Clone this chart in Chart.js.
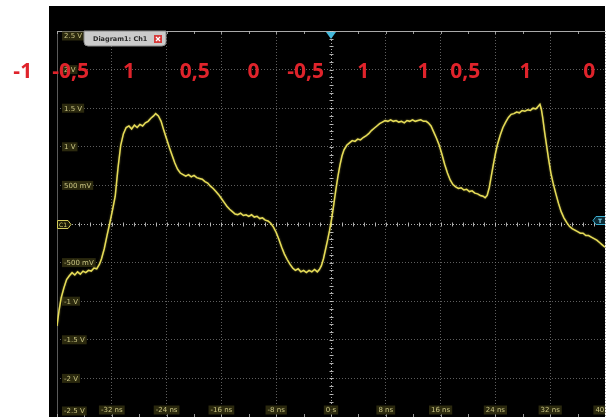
<!DOCTYPE html>
<html>
<head>
<meta charset="utf-8">
<title>Diagram1: Ch1</title>
<script src="https://cdn.jsdelivr.net/npm/chart.js@4.4.1/dist/chart.umd.min.js"></script>
<style>
  html, body { margin: 0; padding: 0; background: #ffffff; }
  #wrap { position: relative; width: 612px; height: 417px; overflow: hidden; }
  canvas { display: block; }
</style>
</head>
<body>
<div id="wrap"><canvas id="scope" width="612" height="417"></canvas></div>
<script>
// Channel 1 acquisition: time (ns) and voltage (V)
const timeNs = [
  -40.0, -39.7, -39.4, -39.0, -38.6, -38.2, -37.8, -37.4, -37.0, -36.6,
  -36.2, -35.8, -35.4, -35.0, -34.6, -34.2, -33.8, -33.5, -33.1, -32.7,
  -32.3, -31.9, -31.5, -31.1, -30.7, -30.3, -29.9, -29.5, -29.1, -28.7,
  -28.3, -27.9, -27.5, -27.1, -26.7, -26.3, -25.9, -25.6, -25.2, -24.8,
  -24.4, -24.0, -23.6, -23.2, -22.8, -22.4, -22.0, -21.6, -21.2, -20.8,
  -20.4, -20.0, -19.6, -19.2, -18.8, -18.4, -18.0, -17.6, -17.2, -16.8,
  -16.4, -16.0, -15.6, -15.2, -14.8, -14.4, -14.0, -13.6, -13.2, -12.8,
  -12.4, -12.0, -11.6, -11.2, -10.8, -10.4, -10.0, -9.6, -9.2, -8.8,
  -8.4, -8.0, -7.6, -7.2, -6.8, -6.4, -6.0, -5.6, -5.2, -4.8,
  -4.4, -4.0, -3.6, -3.2, -2.8, -2.4, -2.0, -1.7, -1.4, -1.1,
  -0.8, -0.5, -0.2, 0.1, 0.4, 0.7, 1.0, 1.3, 1.6, 1.9,
  2.3, 2.7, 3.1, 3.5, 3.9, 4.3, 4.7, 5.1, 5.5, 5.9,
  6.3, 6.7, 7.1, 7.5, 7.9, 8.3, 8.7, 9.1, 9.5, 9.9,
  10.3, 10.7, 11.1, 11.5, 11.9, 12.3, 12.7, 13.1, 13.5, 13.9,
  14.2, 14.6, 15.0, 15.4, 15.8, 16.2, 16.6, 17.0, 17.4, 17.8,
  18.2, 18.6, 19.0, 19.4, 19.8, 20.2, 20.6, 21.0, 21.4, 21.8,
  22.2, 22.5, 22.8, 23.1, 23.4, 23.7, 24.0, 24.3, 24.7, 25.1,
  25.5, 25.9, 26.3, 26.7, 27.1, 27.5, 27.9, 28.3, 28.7, 29.1,
  29.5, 29.9, 30.2, 30.5, 30.7, 30.9, 31.2, 31.5, 31.8, 32.1,
  32.4, 32.8, 33.2, 33.6, 34.0, 34.4, 34.8, 35.2, 35.6, 36.0,
  36.4, 36.8, 37.2, 37.6, 38.0, 38.4, 38.8, 39.2, 39.6, 40.0
];
const volts = [
  -1.32, -1.12, -0.96, -0.83, -0.72, -0.67, -0.63, -0.66, -0.62, -0.65,
  -0.61, -0.63, -0.60, -0.61, -0.57, -0.58, -0.52, -0.45, -0.32, -0.15,
  0.01, 0.18, 0.36, 0.72, 1.02, 1.17, 1.25, 1.27, 1.23, 1.28,
  1.25, 1.29, 1.27, 1.31, 1.33, 1.37, 1.40, 1.43, 1.40, 1.33,
  1.21, 1.10, 0.99, 0.89, 0.79, 0.71, 0.66, 0.64, 0.62, 0.64,
  0.61, 0.63, 0.60, 0.59, 0.58, 0.55, 0.53, 0.49, 0.46, 0.42,
  0.38, 0.33, 0.28, 0.23, 0.19, 0.16, 0.13, 0.12, 0.14, 0.11,
  0.12, 0.10, 0.12, 0.09, 0.10, 0.07, 0.08, 0.05, 0.04, 0.01,
  -0.04, -0.11, -0.20, -0.30, -0.39, -0.46, -0.52, -0.57, -0.60, -0.58,
  -0.62, -0.60, -0.63, -0.60, -0.62, -0.59, -0.62, -0.59, -0.54, -0.45,
  -0.33, -0.21, -0.08, 0.07, 0.25, 0.44, 0.61, 0.76, 0.88, 0.96,
  1.02, 1.05, 1.08, 1.07, 1.10, 1.09, 1.12, 1.14, 1.17, 1.21,
  1.24, 1.27, 1.30, 1.32, 1.34, 1.33, 1.35, 1.33, 1.34, 1.32,
  1.33, 1.31, 1.34, 1.33, 1.35, 1.33, 1.34, 1.35, 1.33, 1.33,
  1.31, 1.27, 1.19, 1.11, 1.02, 0.90, 0.77, 0.66, 0.57, 0.51,
  0.48, 0.46, 0.47, 0.44, 0.45, 0.42, 0.43, 0.40, 0.39, 0.37,
  0.36, 0.34, 0.37, 0.47, 0.62, 0.77, 0.91, 1.03, 1.15, 1.25,
  1.32, 1.38, 1.42, 1.43, 1.45, 1.44, 1.47, 1.46, 1.48, 1.47,
  1.50, 1.49, 1.52, 1.55, 1.49, 1.38, 1.18, 1.00, 0.82, 0.66,
  0.54, 0.40, 0.27, 0.16, 0.08, 0.02, -0.03, -0.06, -0.08, -0.10,
  -0.12, -0.12, -0.15, -0.15, -0.17, -0.19, -0.21, -0.24, -0.27, -0.30
];

// Horizontal (time) and vertical (voltage) graticule labels
const xTickValues = [-32, -24, -16, -8, 0, 8, 16, 24, 32, 40];
const xTickLabels = ["-32 ns", "-24 ns", "-16 ns", "-8 ns", "0 s", "8 ns", "16 ns", "24 ns", "32 ns", "40 ns"];
const yTickValues = [2.5, 2, 1.5, 1, 0.5, -0.5, -1, -1.5, -2, -2.5];
const yTickLabels = ["2.5 V", "2 V", "1.5 V", "1 V", "500 mV", "-500 mV", "-1 V", "-1.5 V", "-2 V", "-2.5 V"];

// Decoded symbol levels written above the trace
const symbolLabels = ["-1", "-0,5", "1", "0,5", "0", "-0,5", "1", "1", "0,5", "1", "0"];
const symbolTimes = [-45, -38, -29.5, -19.9, -11.3, -3.7, 4.7, 13.5, 19.6, 28.4, 37.7];
const symbolLevel = 1.97;

const SCREEN = { x: 49, y: 6, w: 556, h: 411 };

function seg(ctx, x1, y1, x2, y2) {
  ctx.beginPath(); ctx.moveTo(x1, y1); ctx.lineTo(x2, y2); ctx.stroke();
}

function tag(ctx, text, cx, cy, align) {
  ctx.font = '7px "DejaVu Sans"';
  const w = ctx.measureText(text).width + 4;
  const h = 9;
  let left = align === 'left' ? cx : cx - w / 2;
  ctx.fillStyle = 'rgba(48,46,16,0.9)';
  ctx.fillRect(left, cy - h / 2, w, h);
  ctx.fillStyle = '#c9c483';
  ctx.textAlign = 'left';
  ctx.textBaseline = 'middle';
  ctx.fillText(text, left + 2, cy + 0.5);
}

const scopeScreen = {
  id: 'scopeScreen',
  beforeDraw(chart) {
    const ctx = chart.ctx;
    ctx.save();
    ctx.fillStyle = '#ffffff';
    ctx.fillRect(0, 0, chart.width, chart.height);
    ctx.fillStyle = '#000000';
    ctx.fillRect(SCREEN.x, SCREEN.y, SCREEN.w, SCREEN.h);
    ctx.restore();
  },
  beforeDatasetsDraw(chart) {
    const { ctx, chartArea: a, scales: { x, y } } = chart;
    const x0 = Math.round(x.getPixelForValue(0)) + 0.5;
    const y0 = Math.round(y.getPixelForValue(0)) + 0.5;
    ctx.save();
    ctx.beginPath();
    ctx.rect(SCREEN.x, SCREEN.y, SCREEN.w, SCREEN.h);
    ctx.clip();

    // frame
    ctx.lineWidth = 1;
    ctx.strokeStyle = '#a9a9a9';
    seg(ctx, a.left, Math.round(a.top) + 0.5, a.right, Math.round(a.top) + 0.5);
    ctx.strokeStyle = '#5a5a5a';
    seg(ctx, Math.round(a.left) + 0.5, a.top, Math.round(a.left) + 0.5, a.bottom);

    // minor ticks on the centre cross
    ctx.strokeStyle = 'rgba(205,205,205,0.85)';
    for (let i = 0; i <= 50; i++) {
      const px = Math.round(x.getPixelForValue(-40 + i * 1.6)) + 0.5;
      seg(ctx, px, y0 - 2, px, y0 + 2);
    }
    for (let i = 0; i <= 50; i++) {
      const py = Math.round(y.getPixelForValue(-2.5 + i * 0.1)) + 0.5;
      seg(ctx, x0 - 2, py, x0 + 2, py);
    }
    // ticks on the top and bottom edges
    ctx.strokeStyle = 'rgba(190,190,190,0.8)';
    for (let i = 0; i <= 20; i++) {
      const px = Math.round(x.getPixelForValue(-40 + i * 4)) + 0.5;
      seg(ctx, px, a.top, px, a.top + 3);
      seg(ctx, px, a.bottom - 3, px, a.bottom);
    }

    // vertical scale labels
    yTickValues.forEach((v, i) => {
      let py = y.getPixelForValue(v);
      if (v === 2.5) py += 5;
      if (v === -2.5) py -= 6;
      tag(ctx, yTickLabels[i], a.left + 5, py, 'left');
    });
    // horizontal scale labels
    xTickValues.forEach((t, i) => {
      tag(ctx, xTickLabels[i], x.getPixelForValue(t), a.bottom - 7, 'center');
    });

    // channel reference marker
    ctx.fillStyle = '#1b1b06';
    ctx.strokeStyle = '#d4cc5c';
    ctx.beginPath();
    ctx.moveTo(a.left + 0.5, y0 - 4);
    ctx.lineTo(a.left + 11, y0 - 4);
    ctx.lineTo(a.left + 14, y0);
    ctx.lineTo(a.left + 11, y0 + 4);
    ctx.lineTo(a.left + 0.5, y0 + 4);
    ctx.closePath();
    ctx.fill(); ctx.stroke();
    ctx.fillStyle = '#d8d070';
    ctx.font = '6px "DejaVu Sans"';
    ctx.textAlign = 'left'; ctx.textBaseline = 'middle';
    ctx.fillText('C1', a.left + 2, y0 + 0.5);

    // trigger level marker
    const ty = y0 - 4;
    ctx.fillStyle = '#0c2a34';
    ctx.strokeStyle = '#3aaed0';
    ctx.beginPath();
    ctx.moveTo(a.right - 12, ty);
    ctx.lineTo(a.right - 9, ty - 4);
    ctx.lineTo(a.right + 2, ty - 4);
    ctx.lineTo(a.right + 2, ty + 4);
    ctx.lineTo(a.right - 9, ty + 4);
    ctx.closePath();
    ctx.fill(); ctx.stroke();
    ctx.fillStyle = '#7fd6ee';
    ctx.font = 'bold 6px "DejaVu Sans"';
    ctx.fillText('T', a.right - 7, ty + 0.5);
    ctx.restore();
  },
  beforeDatasetDraw(chart) {
    const ctx = chart.ctx;
    ctx.save();
    ctx.shadowColor = 'rgba(235,225,90,0.5)';
    ctx.shadowBlur = 2;
  },
  afterDatasetDraw(chart) {
    chart.ctx.restore();
  },
  afterDraw(chart) {
    const { ctx, chartArea: a, scales: { x, y } } = chart;
    const x0 = x.getPixelForValue(0);
    ctx.save();

    // trigger position marker
    ctx.fillStyle = '#44b9dc';
    ctx.beginPath();
    ctx.moveTo(x0 - 5, a.top + 1);
    ctx.lineTo(x0 + 5, a.top + 1);
    ctx.lineTo(x0, a.top + 8);
    ctx.closePath();
    ctx.fill();

    // diagram tab
    const tx = 84, tyTop = a.top, tw = 82, th = 15;
    ctx.fillStyle = '#cbcbcb';
    ctx.strokeStyle = '#8a8a8a';
    ctx.lineWidth = 1;
    ctx.beginPath();
    ctx.moveTo(tx, tyTop);
    ctx.lineTo(tx + tw, tyTop);
    ctx.lineTo(tx + tw, tyTop + th - 4);
    ctx.quadraticCurveTo(tx + tw, tyTop + th, tx + tw - 4, tyTop + th);
    ctx.lineTo(tx + 4, tyTop + th);
    ctx.quadraticCurveTo(tx, tyTop + th, tx, tyTop + th - 4);
    ctx.closePath();
    ctx.fill();
    ctx.stroke();
    ctx.fillStyle = '#2b2b2b';
    ctx.font = 'bold 6.5px "DejaVu Sans"';
    ctx.textAlign = 'left'; ctx.textBaseline = 'middle';
    ctx.fillText('Diagram1: Ch1', tx + 9, tyTop + 8);
    ctx.fillStyle = '#d63b3b';
    ctx.fillRect(tx + 70, tyTop + 4, 8, 8);
    ctx.strokeStyle = '#ffffff';
    ctx.lineWidth = 1.2;
    seg(ctx, tx + 72, tyTop + 6, tx + 76, tyTop + 10);
    seg(ctx, tx + 76, tyTop + 6, tx + 72, tyTop + 10);

    // symbol levels
    ctx.fillStyle = '#df232b';
    ctx.font = 'bold 21px "Open Sans"';
    ctx.textAlign = 'center';
    ctx.textBaseline = 'middle';
    const ly = y.getPixelForValue(symbolLevel);
    symbolLabels.forEach((s, i) => {
      ctx.fillText(s, x.getPixelForValue(symbolTimes[i]), ly);
    });
    ctx.restore();
  }
};

const gridColor = (c) => (c.tick && c.tick.value === 0) ? 'rgba(200,200,200,0.85)' : 'rgba(125,125,125,0.75)';

new Chart(document.getElementById('scope'), {
  type: 'line',
  data: {
    datasets: [{
      label: 'Ch1',
      data: timeNs.map((t, i) => ({ x: t, y: volts[i] })),
      borderColor: '#e6dc58',
      borderWidth: 1.5,
      pointRadius: 0,
      tension: 0,
      fill: false
    }]
  },
  options: {
    responsive: false,
    devicePixelRatio: 1,
    animation: false,
    events: [],
    layout: { padding: { left: 57, right: 7, top: 31, bottom: 0 } },
    plugins: { legend: { display: false }, tooltip: { enabled: false } },
    scales: {
      x: {
        type: 'linear', min: -40, max: 40,
        ticks: { display: false, stepSize: 8 },
        grid: { color: gridColor, drawTicks: false, lineWidth: 1 },
        border: { display: false, dash: [1, 2] }
      },
      y: {
        type: 'linear', min: -2.5, max: 2.5,
        ticks: { display: false, stepSize: 0.5 },
        grid: { color: gridColor, drawTicks: false, lineWidth: 1 },
        border: { display: false, dash: [1, 2] }
      }
    }
  },
  plugins: [scopeScreen]
});
</script>
</body>
</html>
